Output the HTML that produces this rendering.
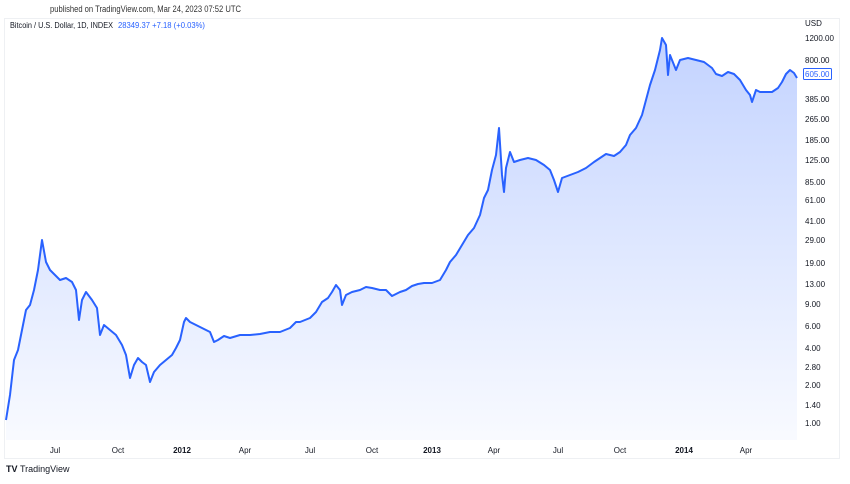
<!DOCTYPE html>
<html><head><meta charset="utf-8"><style>
body{margin:0;background:#fff;font-family:"Liberation Sans",sans-serif;}
</style></head><body>
<svg width="850" height="479" xmlns="http://www.w3.org/2000/svg" font-family="Liberation Sans, sans-serif">
<defs><linearGradient id="g" x1="0" y1="0" x2="0" y2="1">
<stop offset="0" stop-color="#2962ff" stop-opacity="0.28"/>
<stop offset="1" stop-color="#2962ff" stop-opacity="0.03"/></linearGradient></defs>
<rect x="4.5" y="18.5" width="835" height="440" fill="none" stroke="#eef0f3"/>
<text x="50" y="12" font-size="9" fill="#333" textLength="191" lengthAdjust="spacingAndGlyphs">published on TradingView.com, Mar 24, 2023 07:52 UTC</text>
<text x="10" y="28" font-size="8" fill="#131722" textLength="103" lengthAdjust="spacingAndGlyphs">Bitcoin / U.S. Dollar, 1D, INDEX</text>
<text x="118" y="28" font-size="8" fill="#2962ff" textLength="87" lengthAdjust="spacingAndGlyphs">28349.37  +7.18 (+0.03%)</text>
<g id="p">
<path d="M6,440 L6,420 10,395 14,360 18,350 22,330 26,310 30,305 34,290 38,270 42,240 46,262 50,270 55,275 60,280 66,278 72,282 76,290 79,320 82,300 86,292 92,300 97,308 100,335 104,325 110,330 116,335 122,345 126,355 130,378 134,365 138,358 142,362 146,365 150,382 154,372 160,365 166,360 172,355 176,348 180,340 184,322 186,318 190,322 196,325 202,328 210,332 214,342 218,340 224,336 230,338 240,335 250,335 260,334 270,332 280,332 290,328 296,322 300,322 310,318 316,312 322,302 328,298 332,292 336,285 340,290 342,305 346,295 352,292 360,290 366,287 372,288 380,290 386,290 392,296 400,292 406,290 412,286 418,284 424,283 432,283 440,280 446,270 450,262 456,255 462,245 468,235 474,228 480,215 484,198 488,190 492,170 496,155 499,128 502,175 504,192 506,168 510,152 514,162 520,160 528,158 536,160 544,165 550,170 554,180 558,192 562,178 570,175 578,172 586,168 594,162 600,158 606,154 614,156 620,152 626,145 630,135 636,128 642,115 646,100 650,85 655,70 660,50 662,38 666,45 668,75 670,55 676,70 680,60 688,58 696,60 704,62 712,68 716,74 722,76 728,72 734,74 740,80 746,90 750,95 752,102 756,90 760,92 766,92 772,92 778,88 782,82 786,74 790,70 794,73 797,78 L797,440 Z" fill="url(#g)"/>
<path d="M6,420 10,395 14,360 18,350 22,330 26,310 30,305 34,290 38,270 42,240 46,262 50,270 55,275 60,280 66,278 72,282 76,290 79,320 82,300 86,292 92,300 97,308 100,335 104,325 110,330 116,335 122,345 126,355 130,378 134,365 138,358 142,362 146,365 150,382 154,372 160,365 166,360 172,355 176,348 180,340 184,322 186,318 190,322 196,325 202,328 210,332 214,342 218,340 224,336 230,338 240,335 250,335 260,334 270,332 280,332 290,328 296,322 300,322 310,318 316,312 322,302 328,298 332,292 336,285 340,290 342,305 346,295 352,292 360,290 366,287 372,288 380,290 386,290 392,296 400,292 406,290 412,286 418,284 424,283 432,283 440,280 446,270 450,262 456,255 462,245 468,235 474,228 480,215 484,198 488,190 492,170 496,155 499,128 502,175 504,192 506,168 510,152 514,162 520,160 528,158 536,160 544,165 550,170 554,180 558,192 562,178 570,175 578,172 586,168 594,162 600,158 606,154 614,156 620,152 626,145 630,135 636,128 642,115 646,100 650,85 655,70 660,50 662,38 666,45 668,75 670,55 676,70 680,60 688,58 696,60 704,62 712,68 716,74 722,76 728,72 734,74 740,80 746,90 750,95 752,102 756,90 760,92 766,92 772,92 778,88 782,82 786,74 790,70 794,73 797,78" fill="none" stroke="#2962ff" stroke-width="2" stroke-linejoin="round"/>
</g>
<g font-size="8" fill="#131722">
<text x="805" y="26">USD</text>
<text x="805" y="41">1200.00</text>
<text x="805" y="63">800.00</text>
<text x="805" y="102">385.00</text>
<text x="805" y="122">265.00</text>
<text x="805" y="143">185.00</text>
<text x="805" y="163">125.00</text>
<text x="805" y="185">85.00</text>
<text x="805" y="203">61.00</text>
<text x="805" y="224">41.00</text>
<text x="805" y="243">29.00</text>
<text x="805" y="266">19.00</text>
<text x="805" y="287">13.00</text>
<text x="805" y="307">9.00</text>
<text x="805" y="329">6.00</text>
<text x="805" y="351">4.00</text>
<text x="805" y="370">2.80</text>
<text x="805" y="388">2.00</text>
<text x="805" y="408">1.40</text>
<text x="805" y="426">1.00</text>
</g>
<rect x="803.5" y="68.5" width="28" height="11" fill="#fff" stroke="#2962ff" rx="1"/>
<text x="805" y="77" font-size="8" fill="#2962ff">605.00</text>
<g font-size="8" fill="#131722" text-anchor="middle">
<text x="55" y="453">Jul</text><text x="118" y="453">Oct</text>
<text x="182" y="453" font-weight="bold">2012</text><text x="245" y="453">Apr</text>
<text x="310" y="453">Jul</text><text x="372" y="453">Oct</text>
<text x="432" y="453" font-weight="bold">2013</text><text x="494" y="453">Apr</text>
<text x="558" y="453">Jul</text><text x="620" y="453">Oct</text>
<text x="684" y="453" font-weight="bold">2014</text><text x="746" y="453">Apr</text>
</g>
<text x="6" y="472" font-size="9" font-weight="bold" fill="#131722">TV</text>
<text x="20" y="472" font-size="9" fill="#131722">TradingView</text>
</svg>
</body></html>
